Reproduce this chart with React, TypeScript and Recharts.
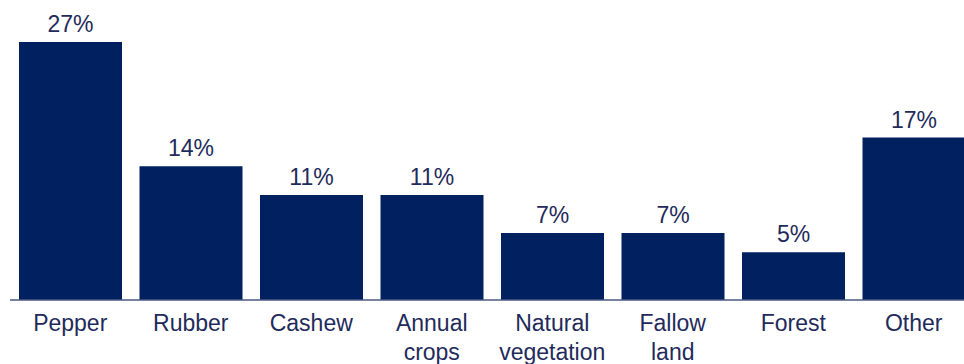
import React from "react";
import { BarChart, Bar, XAxis, YAxis, LabelList } from "recharts";

const categories = ["Pepper", "Rubber", "Cashew", "Annual crops", "Natural vegetation", "Fallow land", "Forest", "Other"];
const shares = [27, 14, 11, 11, 7, 7, 5, 17];

const data = categories.map((name, i) => ({ name, value: shares[i] }));

const TEXT = "#1F2B5B";
const BAR = "#002060";
const FONT = "'Liberation Sans', Arial, sans-serif";

const Tick = (props: any) => {
  const { x, y, payload } = props;
  const words = String(payload.value).split(" ");
  return (
    <text x={x} y={y} textAnchor="middle" fill={TEXT} fontSize={23} fontFamily={FONT}>
      {words.map((w, i) => (
        <tspan key={i} x={x} dy={i === 0 ? 31 : 29}>
          {w}
        </tspan>
      ))}
    </text>
  );
};

export default function App() {
  return (
    <div style={{ position: "absolute", left: 0, top: 0, width: 964, height: 364, overflow: "hidden", background: "#fff" }}>
      <BarChart width={1000} height={364} data={data} margin={{ top: 42, right: 26, bottom: 0, left: 10 }}>
        <XAxis
          dataKey="name"
          interval={0}
          tickLine={false}
          tickSize={0}
          tickMargin={0}
          height={64}
          axisLine={{ stroke: "#4A5A80", strokeWidth: 1.5 }}
          tick={<Tick />}
        />
        <YAxis hide domain={[0, 27]} />
        <Bar dataKey="value" fill={BAR} barSize={103} isAnimationActive={false}>
          <LabelList
            dataKey="value"
            position="top"
            offset={10}
            formatter={(v: any) => `${v}%`}
            fill={TEXT}
            fontSize={23}
            fontFamily={FONT}
          />
        </Bar>
      </BarChart>
    </div>
  );
}
